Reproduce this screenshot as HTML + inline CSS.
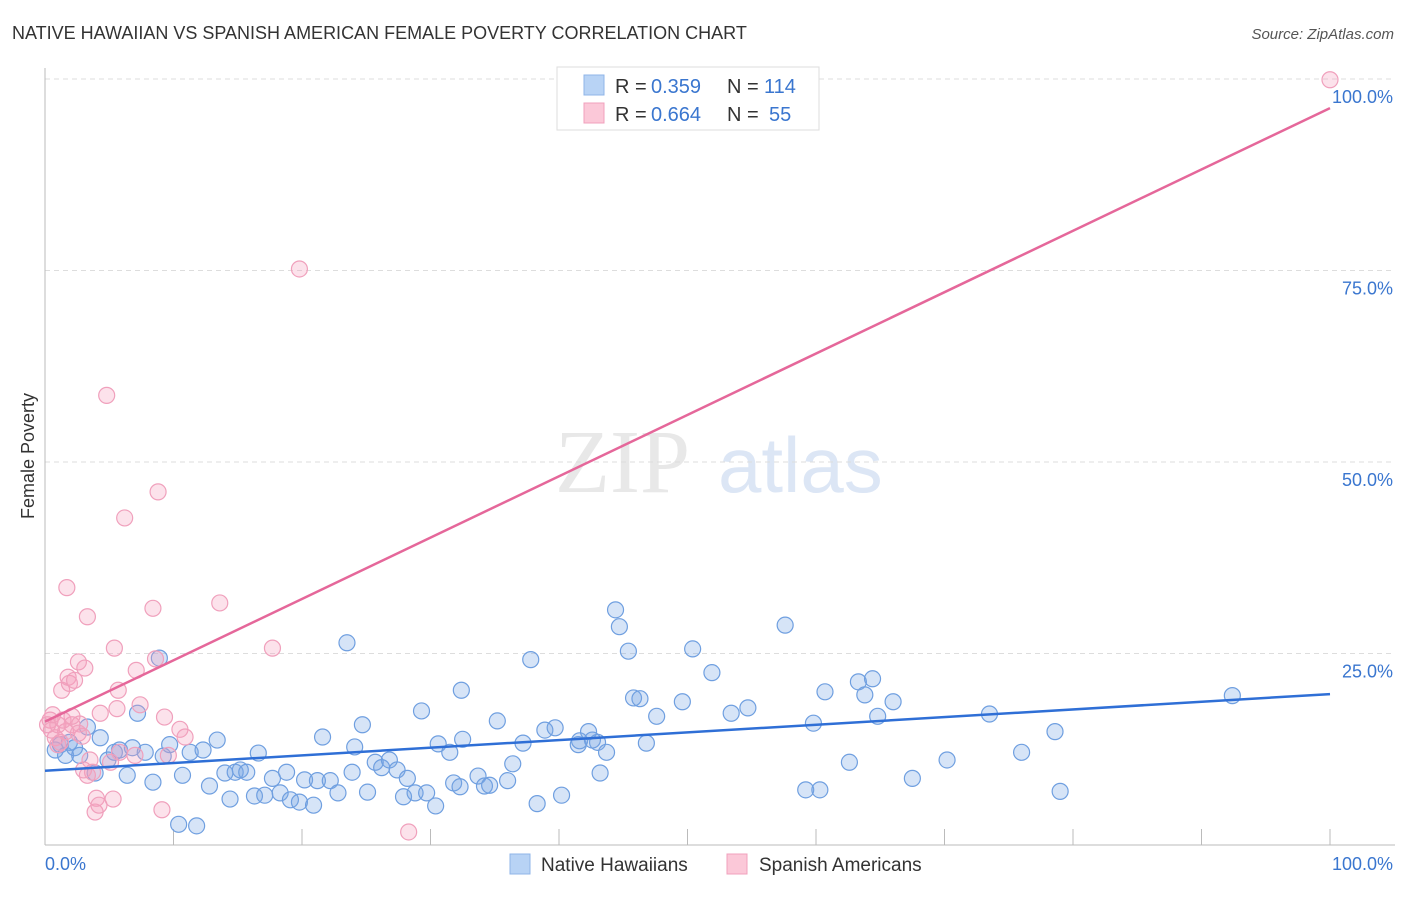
<!DOCTYPE html>
<html><head><meta charset="utf-8"><style>
body{margin:0;background:#fff;font-family:"Liberation Sans",sans-serif;}
svg text{font-family:"Liberation Sans",sans-serif;}
</style></head><body>
<svg id="c" width="1406" height="892">
<text x="12" y="39" font-size="18" fill="#333">NATIVE HAWAIIAN VS SPANISH AMERICAN FEMALE POVERTY CORRELATION CHART</text>
<text x="1394" y="39" font-size="15" fill="#555" font-style="italic" text-anchor="end">Source: ZipAtlas.com</text>
<text x="34" y="456" font-size="18" fill="#333" transform="rotate(-90 34 456)" text-anchor="middle">Female Poverty</text>
<text x="555" y="492" font-size="90" fill="#e8e8e8" style="font-family:'Liberation Serif',serif">ZIP</text>
<text x="718" y="492" font-size="78" fill="#dce6f5">atlas</text>
<g id="grid"></g><g id="pts"></g><g id="lines"></g>
<g>
<rect x="557" y="67" width="262" height="63" fill="#fff" stroke="#ddd"/>
<rect x="584" y="75" width="20" height="20" fill="#b8d3f5" stroke="#8fb5e8"/>
<rect x="584" y="103" width="20" height="20" fill="#fbc8d8" stroke="#f0a0bc"/>
<text x="615" y="93" font-size="20" fill="#333">R =</text>
<text x="651" y="93" font-size="20" fill="#3a76cf">0.359</text>
<text x="727" y="93" font-size="20" fill="#333">N =</text>
<text x="764" y="93" font-size="20" fill="#3a76cf">114</text>
<text x="615" y="121" font-size="20" fill="#333">R =</text>
<text x="651" y="121" font-size="20" fill="#3a76cf">0.664</text>
<text x="727" y="121" font-size="20" fill="#333">N =</text>
<text x="769" y="121" font-size="20" fill="#3a76cf">55</text>
</g>
<g>
<rect x="510" y="854" width="20" height="20" fill="#b8d3f5" stroke="#8fb5e8"/>
<text x="541" y="871" font-size="19" fill="#333">Native Hawaiians</text>
<rect x="727" y="854" width="20" height="20" fill="#fbc8d8" stroke="#f0a0bc"/>
<text x="759" y="871" font-size="19" fill="#333">Spanish Americans</text>
</g>
</svg>
<script>
const yTicks=[25,50,75,100];
const yTickLabels=["25.0%","50.0%","75.0%","100.0%"];
const xTicks=[0,10,20,30,40,50,60,70,80,90,100];
const blueX=[0.8,1.2,1.6,1.9,2.3,2.7,3.3,3.9,4.3,4.9,5.4,5.8,6.4,6.8,7.2,7.8,8.4,8.9,9.2,9.7,10.4,10.7,11.3,11.8,12.3,12.8,13.4,14.0,14.4,14.8,15.2,15.7,16.3,16.6,17.1,17.7,18.3,18.8,19.1,19.8,20.2,20.9,21.2,21.6,22.2,22.8,23.5,23.9,24.1,24.7,25.1,25.7,26.2,26.8,27.4,27.9,28.2,28.8,29.3,29.7,30.4,30.6,31.5,31.8,32.4,32.5,33.7,34.2,34.6,35.2,36.0,36.4,37.2,37.8,38.3,38.9,39.7,40.2,41.5,41.6,42.3,43.0,43.2,43.7,44.4,44.7,45.4,45.8,46.3,46.8,47.6,49.6,50.4,51.9,53.4,54.7,57.6,59.2,59.8,60.3,60.7,62.6,63.3,63.8,64.4,64.8,66.0,67.5,70.2,73.5,76.0,78.6,79.0,92.4,42.6,32.3];
const blueY=[12.4,13.1,11.7,13.4,12.7,11.7,15.4,9.4,14.0,11.1,12.1,12.4,9.1,12.7,17.2,12.1,8.2,24.4,11.6,13.1,2.7,9.1,12.1,2.5,12.4,7.7,13.7,9.4,6.0,9.5,9.8,9.5,6.4,12.0,6.5,8.7,6.8,9.5,5.9,5.6,8.5,5.2,8.4,14.1,8.4,6.8,26.4,9.5,12.8,15.7,6.9,10.8,10.1,11.1,9.8,6.3,8.7,6.8,17.5,6.8,5.1,13.2,12.1,8.1,20.2,13.8,9.0,7.7,7.8,16.2,8.4,10.6,13.3,24.2,5.4,15.0,15.3,6.5,13.1,13.6,14.8,13.4,9.4,12.1,30.7,28.5,25.3,19.2,19.1,13.3,16.8,18.7,25.6,22.5,17.2,17.9,28.7,7.2,15.9,7.2,20.0,10.8,21.3,19.6,21.7,16.8,18.7,8.7,11.1,17.1,12.1,14.8,7.0,19.5,13.7,7.6];
const pinkX=[0.4,0.5,0.8,1.0,1.2,1.3,1.6,1.7,1.8,1.9,2.1,2.3,2.6,2.7,2.9,3.1,3.3,3.3,3.5,3.7,3.9,4.0,4.2,4.3,4.8,5.1,5.3,5.4,5.6,5.7,5.8,6.2,7.0,7.1,7.4,8.4,8.6,8.8,9.1,9.3,9.6,10.5,10.9,13.6,17.7,19.8,28.3,100,0.2,0.6,1.0,1.4,2.1,2.6,3.0];
const pinkY=[16.3,15.0,14.0,15.7,13.4,20.2,14.8,33.6,21.9,21.1,15.7,21.5,23.9,15.8,14.2,23.1,29.8,9.1,11.1,9.5,4.3,6.1,5.2,17.2,58.7,10.8,6.0,25.7,17.8,20.2,12.1,42.7,11.7,22.8,18.3,30.9,24.3,46.1,4.6,16.7,11.7,15.1,14.1,31.6,25.7,75.2,1.7,99.9,15.7,17.0,13.1,16.3,16.8,14.6,9.8];
const blueLine=[9.7,19.7];
const pinkLine=[16.1,96.2];
const NS='http://www.w3.org/2000/svg';
const X=v=>45+v*12.85, Y=v=>845-v*7.66;
function mk(t,a,p){const e=document.createElementNS(NS,t);for(const k in a)e.setAttribute(k,a[k]);p.appendChild(e);return e;}
const g=document.getElementById('grid');
yTicks.forEach((t,i)=>{
 const l=mk('line',{x1:45,x2:1395,y1:Y(t),y2:Y(t),stroke:'#ddd','stroke-dasharray':'5,4'},g);
 
 
 const tx=mk('text',{x:1393,y:Y(t)+24,'font-size':18,fill:'#3a76cf','text-anchor':'end'},g);
 tx.textContent=yTickLabels[i];
 
 
});
mk('line',{x1:45,x2:45,y1:68,y2:845,stroke:'#bbb'},g);
mk('line',{x1:45,x2:1395,y1:845,y2:845,stroke:'#bbb'},g);
xTicks.forEach(t=>{
 const l=mk('line',{x1:X(t),x2:X(t),y1:829,y2:845,stroke:'#bbb'},g);
 
 
});
const a=mk('text',{x:45,y:870,'font-size':18,fill:'#3a76cf'},g);a.textContent='0.0%';


const b=mk('text',{x:1393,y:870,'font-size':18,fill:'#3a76cf','text-anchor':'end'},g);b.textContent='100.0%';


const p=document.getElementById('pts');
blueX.forEach((v,i)=>{
 const c=mk('circle',{cx:X(v),cy:Y(blueY[i]),r:8,fill:'rgba(120,165,230,0.3)',stroke:'#6f9fe0','stroke-width':1.2},p);
 
 
});
pinkX.forEach((v,i)=>{
 const c=mk('circle',{cx:X(v),cy:Y(pinkY[i]),r:8,fill:'rgba(245,160,190,0.3)',stroke:'#f0a0bc','stroke-width':1.2},p);
 
 
});
const L=document.getElementById('lines');
const bl=mk('line',{x1:X(0),y1:Y(blueLine[0]),x2:X(100),y2:Y(blueLine[1]),stroke:'#2f6fd6','stroke-width':2.5},L);


const pl=mk('line',{x1:X(0),y1:Y(pinkLine[0]),x2:X(100),y2:Y(pinkLine[1]),stroke:'#e5679a','stroke-width':2.5},L);


</script>
</body></html>
